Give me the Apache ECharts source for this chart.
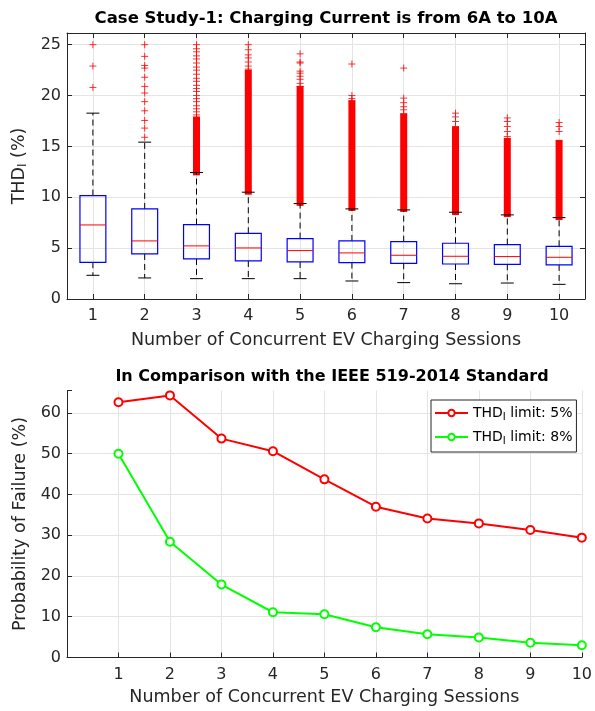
<!DOCTYPE html>
<html><head><meta charset="utf-8">
<script src="https://cdn.jsdelivr.net/npm/echarts@6/dist/echarts.min.js"></script>
<style>html,body{margin:0;padding:0;background:#fff}#c{width:595px;height:711px}</style>
</head><body><div id="c"></div>
<script>
// ---------- data ----------
const sessions = ['1','2','3','4','5','6','7','8','9','10'];
const whiskerLow  = [2.33, 2.07, 2.00, 2.00, 2.00, 1.77, 1.61, 1.50, 1.57, 1.44];
const quartile1   = [3.61, 4.43, 3.94, 3.74, 3.64, 3.58, 3.51, 3.44, 3.41, 3.35];
const medianThd   = [7.28, 5.71, 5.22, 5.02, 4.76, 4.53, 4.30, 4.20, 4.17, 4.10];
const quartile3   = [10.17, 8.86, 7.32, 6.46, 5.94, 5.71, 5.64, 5.48, 5.35, 5.18];
const whiskerHigh = [18.27, 15.42, 12.43, 10.50, 9.38, 8.86, 8.76, 8.53, 8.27, 8.00];
// dense (overlapping) outlier runs: low and high ends
const denseOutlierLow  = [null, null, 12.5, 10.6, 9.5, 9.0, 8.9, 8.6, 8.4, 8.1];
const denseOutlierHigh = [null, null, 17.6, 22.2, 20.6, 19.2, 17.9, 16.6, 15.5, 15.3];
// individually visible outliers
const outliers1  = [25.0, 22.9, 20.8];
const outliers2  = [25.0, 23.85, 22.96, 22.7, 21.8, 20.9, 20.25, 19.4, 18.5, 17.55, 16.8, 15.9];
const outliers3  = [25.0, 24.6, 24.3, 23.9, 23.6, 23.2, 22.8, 22.5, 22.1, 21.7, 21.4, 21.0, 20.7, 20.4, 20.0, 19.7, 19.4, 19.0, 18.7, 18.4, 18.1, 17.8];
const outliers4  = [25.0, 24.5, 24.0, 23.7, 23.3, 22.9, 22.6];
const outliers5  = [24.1, 23.3, 23.2, 22.4, 22.2, 21.9, 21.6, 21.2, 20.9];
const outliers6  = [23.1, 20.0, 19.7, 19.45];
const outliers7  = [22.7, 19.75, 19.3, 18.9, 18.6, 18.2];
const outliers8  = [18.27, 17.9, 17.45, 16.96];
const outliers9  = [17.8, 17.45, 16.96, 16.47, 15.98];
const outliers10 = [17.35, 16.96, 16.47];
const sparseOutliers = [outliers1, outliers2, outliers3, outliers4, outliers5, outliers6, outliers7, outliers8, outliers9, outliers10];

const sessionNumbers = [1, 2, 3, 4, 5, 6, 7, 8, 9, 10];
const failureLimit5 = [62.6, 64.3, 53.7, 50.6, 43.7, 37.0, 34.1, 32.9, 31.3, 29.4];
const failureLimit8 = [50.0, 28.4, 17.9, 11.1, 10.6, 7.4, 5.7, 4.9, 3.6, 3.0];

// ---------- build ----------
const FONT = 'DejaVu Sans';
const AX = '#262626';
const GRIDC = '#e4e4e4';

const boxData = sessions.map((s, i) => [i, whiskerLow[i], quartile1[i], medianThd[i], quartile3[i], whiskerHigh[i]]);
const denseData = [];
sessions.forEach((s, i) => { if (denseOutlierLow[i] != null) denseData.push([i, denseOutlierLow[i], denseOutlierHigh[i]]); });
const outlierData = [];
sparseOutliers.forEach((arr, i) => arr.forEach(v => outlierData.push([i, v])));

const thdName = '{a|THD}{s|I}{a| (%)}';
const chart = echarts.init(document.getElementById('c'), null, {renderer: 'canvas'});

function axisCommon() {
  return {
    axisLine: {show: true, onZero: false, lineStyle: {color: AX, width: 1}},
    axisTick: {show: true, inside: true, length: 5, lineStyle: {color: AX}},
  };
}

const option = {
  animation: false,
  backgroundColor: '#fff',
  textStyle: {fontFamily: FONT},
  graphic: [
    {type: 'text', x: 326, y: 19, style: {text: 'Case Study-1: Charging Current is from 6A to 10A', fontFamily: FONT, fontSize: 16.5, fontWeight: 'bold', fill: '#000', align: 'center', verticalAlign: 'middle'}},
    {type: 'text', x: 332, y: 377, style: {text: 'In Comparison with the IEEE 519-2014 Standard', fontFamily: FONT, fontSize: 16, fontWeight: 'bold', fill: '#000', align: 'center', verticalAlign: 'middle'}}
  ],
  grid: [
    {left: 67, top: 33, width: 518, height: 266},
    {left: 67, top: 390.5, width: 519, height: 267}
  ],
  xAxis: [
    Object.assign(axisCommon(), {
      type: 'category', gridIndex: 0, data: sessions, boundaryGap: true,
      axisTick: {show: true, inside: true, alignWithLabel: true, length: 5, lineStyle: {color: AX}},
      axisLabel: {color: AX, fontSize: 16, margin: 9, fontFamily: FONT},
      splitLine: {show: true, alignWithLabel: true, lineStyle: {color: GRIDC, width: 1}},
      name: 'Number of Concurrent EV Charging Sessions', nameLocation: 'middle', nameGap: 32,
      nameTextStyle: {fontSize: 17.5, color: AX, fontFamily: FONT}
    }),
    Object.assign(axisCommon(), {
      type: 'category', gridIndex: 0, data: sessions, boundaryGap: true, position: 'top',
      axisTick: {show: true, inside: true, alignWithLabel: true, length: 5, lineStyle: {color: AX}},
      axisLabel: {show: false}, splitLine: {show: false}
    }),
    Object.assign(axisCommon(), {
      type: 'value', gridIndex: 1, min: 0, max: 10, interval: 1,
      axisLabel: {color: AX, fontSize: 16, margin: 9, fontFamily: FONT, formatter: v => (v === 0 ? '' : String(v))},
      splitLine: {show: true, lineStyle: {color: GRIDC, width: 1}},
      name: 'Number of Concurrent EV Charging Sessions', nameLocation: 'middle', nameGap: 31,
      nameTextStyle: {fontSize: 17.5, color: AX, fontFamily: FONT}
    })
  ],
  yAxis: [
    Object.assign(axisCommon(), {
      type: 'value', gridIndex: 0, min: 0, max: 26.15, interval: 5,
      axisLabel: {color: AX, fontSize: 16, margin: 6, fontFamily: FONT, formatter: v => (v % 5 === 0 ? String(v) : '')},
      splitLine: {show: true, lineStyle: {color: GRIDC, width: 1}},
      name: thdName, nameLocation: 'middle', nameRotate: 90, nameGap: 38,
      nameTextStyle: {color: AX, fontFamily: FONT, rich: {
        a: {fontSize: 17.5, color: AX, fontFamily: FONT, lineHeight: 20, verticalAlign: 'middle'},
        s: {fontSize: 12, color: AX, fontFamily: FONT, lineHeight: 12, verticalAlign: 'bottom'}
      }}
    }),
    Object.assign(axisCommon(), {
      type: 'value', gridIndex: 0, min: 0, max: 26.15, interval: 5, position: 'right',
      axisLabel: {show: false}, splitLine: {show: false}
    }),
    Object.assign(axisCommon(), {
      type: 'value', gridIndex: 1, min: 0, max: 65.5, interval: 10,
      axisLabel: {color: AX, fontSize: 16, margin: 6, fontFamily: FONT, formatter: v => (v % 10 === 0 ? String(v) : '')},
      splitLine: {show: true, showMaxLine: false, lineStyle: {color: GRIDC, width: 1}},
      name: 'Probability of Failure (%)', nameLocation: 'middle', nameRotate: 90, nameGap: 31,
      nameTextStyle: {fontSize: 17.5, color: AX, fontFamily: FONT}
    })
  ],
  legend: {
    data: ['lim5', 'lim8'],
    orient: 'vertical', left: 431, top: 400,
    itemWidth: 33, itemHeight: 8, itemGap: 8,
    padding: [6, 4, 6, 3],
    borderColor: AX, borderWidth: 1, backgroundColor: '#fff',
    formatter: n => (n === 'lim5' ? '{a|THD}{s|I}{a| limit: 5%}' : '{a|THD}{s|I}{a| limit: 8%}'),
    textStyle: {color: '#000', fontFamily: FONT, fontSize: 14, rich: {
      a: {fontSize: 14, color: '#000', fontFamily: FONT, lineHeight: 18, verticalAlign: 'middle'},
      s: {fontSize: 10, color: '#000', fontFamily: FONT, lineHeight: 10, verticalAlign: 'bottom'}
    }}
  },
  series: [
    {
      type: 'scatter', name: 'outliers', xAxisIndex: 0, yAxisIndex: 0, data: outlierData, z: 2,
      symbol: 'path://M0,5L10,5M5,0L5,10', symbolSize: 7,
      itemStyle: {color: 'none', borderColor: '#ff0000', borderWidth: 1}
    },
    {
      type: 'custom', name: 'dense', xAxisIndex: 0, yAxisIndex: 0, data: denseData, z: 2,
      encode: {x: 0, y: [1, 2]},
      renderItem: (p, api) => {
        const a = api.coord([api.value(0), api.value(1)]);
        const b = api.coord([api.value(0), api.value(2)]);
        return {type: 'rect', shape: {x: a[0] - 3.5, y: b[1] - 3.5, width: 7, height: a[1] - b[1] + 7}, style: {fill: '#ff0000'}};
      }
    },
    {
      type: 'custom', name: 'boxes', xAxisIndex: 0, yAxisIndex: 0, data: boxData, z: 3,
      encode: {x: 0, y: [1, 2, 3, 4, 5]},
      renderItem: (p, api) => {
        const i = api.value(0);
        const lo = api.coord([i, api.value(1)]);
        const b1 = api.coord([i, api.value(2)]);
        const md = api.coord([i, api.value(3)]);
        const b3 = api.coord([i, api.value(4)]);
        const hi = api.coord([i, api.value(5)]);
        const band = api.size([1, 0])[0];
        const hw = band * 0.25, cw = band * 0.125, x = lo[0];
        const dash = {stroke: '#000', lineWidth: 1, lineDash: [6, 4]};
        return {type: 'group', children: [
          {type: 'line', shape: {x1: x, y1: b3[1], x2: x, y2: hi[1]}, style: dash},
          {type: 'line', shape: {x1: x, y1: b1[1], x2: x, y2: lo[1]}, style: dash},
          {type: 'line', shape: {x1: x - cw, y1: hi[1], x2: x + cw, y2: hi[1]}, style: {stroke: '#000', lineWidth: 1}},
          {type: 'line', shape: {x1: x - cw, y1: lo[1], x2: x + cw, y2: lo[1]}, style: {stroke: '#000', lineWidth: 1}},
          {type: 'rect', shape: {x: x - hw, y: b3[1], width: hw * 2, height: b1[1] - b3[1]}, style: {fill: 'none', stroke: '#0000ff', lineWidth: 1.2}},
          {type: 'line', shape: {x1: x - hw, y1: md[1], x2: x + hw, y2: md[1]}, style: {stroke: '#ff0000', lineWidth: 1}}
        ]};
      }
    },
    {
      type: 'line', name: 'lim5', xAxisIndex: 2, yAxisIndex: 2,
      data: sessionNumbers.map((x, i) => [x, failureLimit5[i]]),
      color: '#ff0000', lineStyle: {color: '#ff0000', width: 2},
      symbol: 'emptyCircle', symbolSize: 8, itemStyle: {color: '#ff0000', borderColor: '#ff0000', borderWidth: 1.5}
    },
    {
      type: 'line', name: 'lim8', xAxisIndex: 2, yAxisIndex: 2,
      data: sessionNumbers.map((x, i) => [x, failureLimit8[i]]),
      color: '#00ff00', lineStyle: {color: '#00ff00', width: 2},
      symbol: 'emptyCircle', symbolSize: 8, itemStyle: {color: '#00ff00', borderColor: '#00ff00', borderWidth: 1.5}
    }
  ]
};
chart.setOption(option);
</script>
</body></html>
